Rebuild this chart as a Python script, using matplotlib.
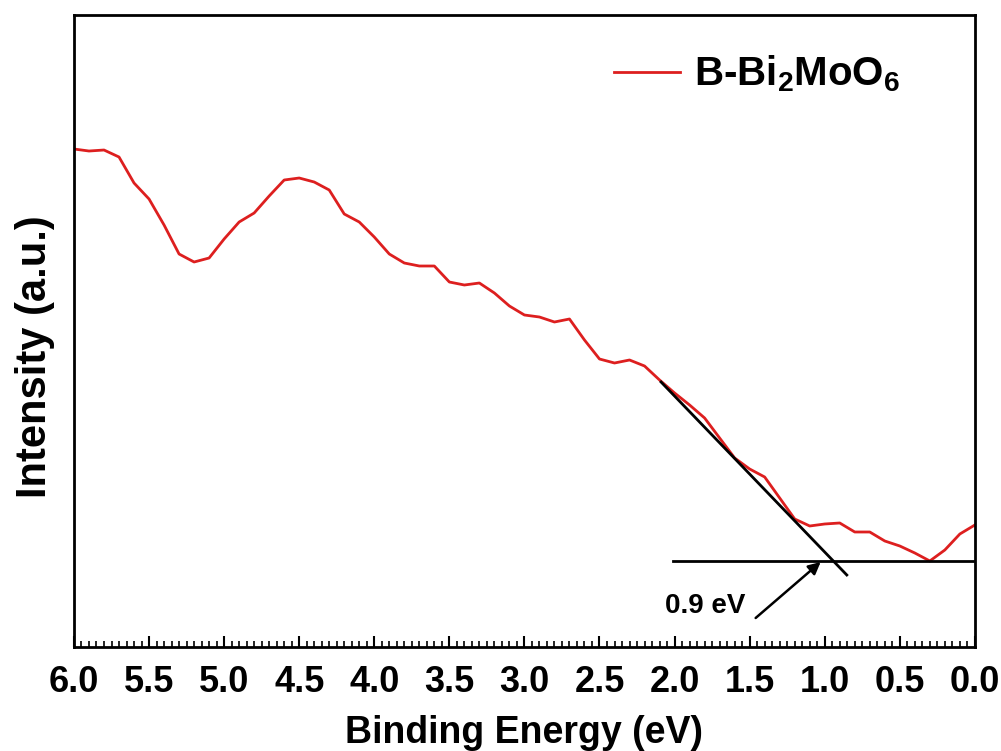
import matplotlib
matplotlib.use('Agg')
import matplotlib.pyplot as plt
import numpy as np
from matplotlib import rcParams

rcParams['font.family'] = 'Liberation Sans'
rcParams['font.weight'] = 'bold'
rcParams['mathtext.fontset'] = 'custom'
rcParams['mathtext.rm'] = 'Liberation Sans:bold'
rcParams['mathtext.bf'] = 'Liberation Sans:bold'
rcParams['mathtext.default'] = 'bf'

# Binding energy (eV), sampled every 0.1 eV
energy = np.round(np.arange(6.0, -0.05, -0.1), 1)
# Intensity (a.u.)
intensity = [498, 496, 497, 490, 464, 448, 422, 393, 385, 389,
             408, 425, 434, 451, 467, 469, 465, 457, 433, 425,
             410, 393, 384, 381, 381, 365, 362, 364, 354, 341,
             332, 330, 325, 328, 307, 288, 284, 287, 281, 267,
             254, 242, 229, 209, 189, 178, 170, 149, 128, 121,
             123, 124, 115, 115, 106, 101, 94, 86, 97, 113, 122]

# baseline and leading-edge tangent
base_x = [2.01, -0.02]
base_y = [85.5, 85.5]
tan_x = [2.09, 0.853]
tan_y = [265, 72]

fig = plt.figure(figsize=(10.01, 7.51), dpi=100)
ax = fig.add_axes([0.0739, 0.1385, 0.9, 0.8415])

ax.plot(energy, intensity, color='#dd1f1f', lw=2.0, label=r'B-Bi$_2$MoO$_6$')
ax.plot(base_x, base_y, color='black', lw=2)
ax.plot(tan_x, tan_y, color='black', lw=2)

# band-gap marker
ax.text(1.527, 41, '0.9 eV', fontsize=20, fontweight='bold', ha='right', va='center')
ax.annotate('', xy=(1.027, 85), xytext=(1.46, 29),
            arrowprops=dict(arrowstyle='-|>', color='black', lw=1.8,
                            mutation_scale=18, shrinkA=0, shrinkB=0))

ax.set_xlim(6.0, 0.0)
ax.set_ylim(0, 632)
ax.set_xticks(np.arange(6.0, -0.01, -0.5))
ax.set_xticklabels([f'{v:.1f}' for v in np.arange(6.0, -0.01, -0.5)])
ax.set_xticks(np.arange(6.0, -0.01, -0.05), minor=True)
ax.set_yticks([])
ax.tick_params(axis='x', which='major', direction='in', length=8, width=1.5,
               labelsize=26, pad=13, top=False)
ax.tick_params(axis='x', which='minor', direction='in', length=4, width=1.2, top=False)
for s in ax.spines.values():
    s.set_linewidth(2)

ax.set_xlabel('Binding Energy (eV)', fontsize=27, fontweight='bold', labelpad=11)
ax.set_ylabel('Intensity (a.u.)', fontsize=30, fontweight='bold')
ax.yaxis.set_label_coords(-0.021, 0.459)

ax.legend(loc='upper right', bbox_to_anchor=(0.958, 0.996), frameon=False,
          fontsize=29, handlelength=1.65, handletextpad=0.35)

fig.savefig('out.png', dpi=100)
